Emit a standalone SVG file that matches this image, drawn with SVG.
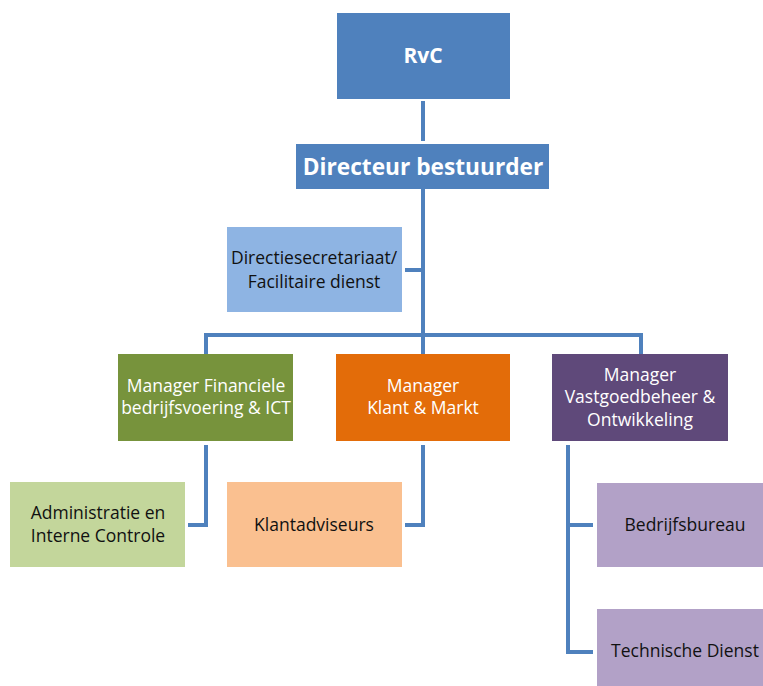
<svg xmlns="http://www.w3.org/2000/svg" width="763" height="686" viewBox="0 0 763 686">
<style>
text{font-family:"Open Sans","Liberation Sans",sans-serif;text-anchor:middle;font-size:17.5px;}
.w{fill:#fff;}
.k{fill:#111;}
.c{fill:none;stroke:#4F81BD;stroke-width:4;}
</style>
<rect width="763" height="686" fill="#fff"/>
<g id="connectors">
<path class="c" d="M423,101 V141"/>
<path class="c" d="M423,189 V355"/>
<path class="c" d="M405,270 H423"/>
<path class="c" d="M206,355 V335 H641 V355"/>
<path class="c" d="M206,445 V525 H188"/>
<path class="c" d="M423,445 V525 H405"/>
<path class="c" d="M593,525 H568 V445 M568,525 V652 H593"/>
</g>
<g id="rvc">
<rect x="337" y="13" width="173" height="86" fill="#4F81BD"/>
<text class="w" x="423" y="63" style="font-weight:bold;font-size:21px">RvC</text>
</g>
<g id="directeur">
<rect x="296" y="144" width="253" height="45" fill="#4F81BD"/>
<text class="w" x="423" y="175" style="font-weight:bold;font-size:22.7px">Directeur bestuurder</text>
</g>
<g id="secretariaat">
<rect x="227" y="227" width="175" height="85" fill="#8EB4E3"/>
<text class="k" x="314" y="264">Directiesecretariaat/</text>
<text class="k" x="314" y="288">Facilitaire dienst</text>
</g>
<g id="financien">
<rect x="118" y="354" width="175" height="87" fill="#77933C"/>
<text class="w" x="206" y="392">Manager Financiele</text>
<text class="w" x="206" y="414">bedrijfsvoering &amp; ICT</text>
</g>
<g id="klant">
<rect x="336" y="354" width="174" height="87" fill="#E36C09"/>
<text class="w" x="423" y="392">Manager</text>
<text class="w" x="423" y="414">Klant &amp; Markt</text>
</g>
<g id="vastgoed">
<rect x="552" y="354" width="176" height="87" fill="#5F497A"/>
<text class="w" x="640" y="381">Manager</text>
<text class="w" x="640" y="403">Vastgoedbeheer &amp;</text>
<text class="w" x="640" y="426">Ontwikkeling</text>
</g>
<g id="administratie">
<rect x="10" y="482" width="175" height="85" fill="#C3D69B"/>
<text class="k" x="98" y="519">Administratie en</text>
<text class="k" x="98" y="542">Interne Controle</text>
</g>
<g id="klantadviseurs">
<rect x="227" y="482" width="175" height="85" fill="#FAC090"/>
<text class="k" x="314" y="531">Klantadviseurs</text>
</g>
<g id="bedrijfsbureau">
<rect x="597" y="483" width="166" height="84" fill="#B2A1C7"/>
<text class="k" x="685" y="531">Bedrijfsbureau</text>
</g>
<g id="technische">
<rect x="597" y="609" width="166" height="77" fill="#B2A1C7"/>
<text class="k" x="685" y="657">Technische Dienst</text>
</g>
</svg>
